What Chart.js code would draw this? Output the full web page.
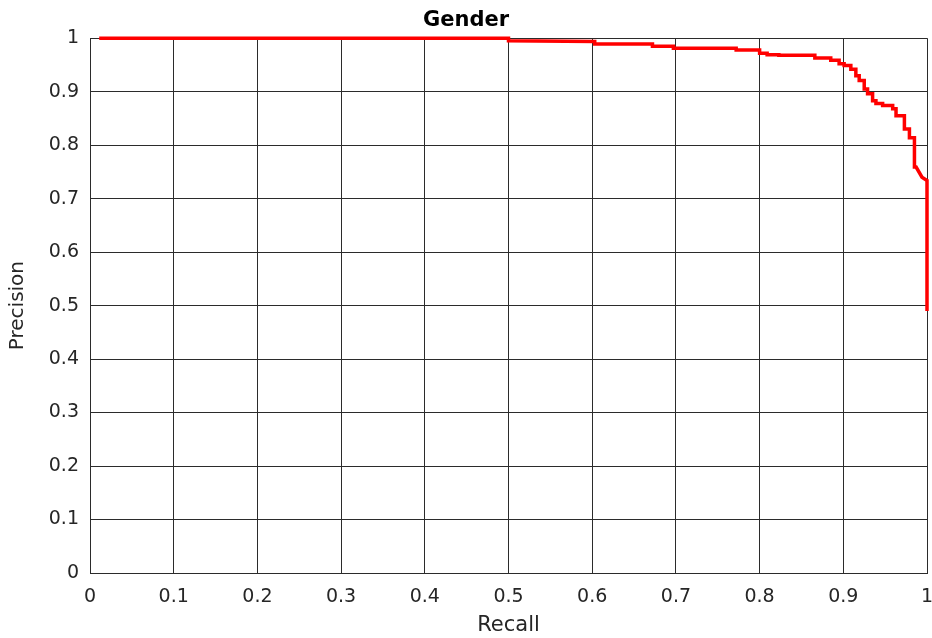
<!DOCTYPE html>
<html>
<head>
<meta charset="utf-8">
<script src="https://cdn.jsdelivr.net/npm/chart.js@4"></script>
<style>
  html, body { margin: 0; padding: 0; background: #fff; }
  #wrap { width: 932px; height: 638px; }
</style>
</head>
<body>
<div id="wrap"><canvas id="myChart" width="932" height="638"></canvas></div>
<script>
// Kurve (Recall / Precision)
const recall = [
    0.011, 0.500, 0.500, 0.603, 0.603, 0.672, 0.672, 0.697, 0.697, 0.772,
    0.772, 0.800, 0.800, 0.809, 0.809, 0.823, 0.823, 0.866, 0.866, 0.885,
    0.885, 0.895, 0.895, 0.901, 0.901, 0.909, 0.909, 0.915, 0.915, 0.919,
    0.919, 0.925, 0.925, 0.929, 0.929, 0.935, 0.935, 0.939, 0.939, 0.947,
    0.947, 0.959, 0.959, 0.963, 0.963, 0.973, 0.973, 0.979, 0.979, 0.985,
    0.985, 0.987, 0.994, 1.000, 1.000
];
const precision = [
    1.000, 1.000, 0.995, 0.994, 0.989, 0.989, 0.985, 0.985, 0.981, 0.981,
    0.978, 0.978, 0.972, 0.972, 0.969, 0.969, 0.968, 0.968, 0.963, 0.963,
    0.959, 0.959, 0.952, 0.952, 0.949, 0.949, 0.942, 0.942, 0.930, 0.930,
    0.921, 0.921, 0.905, 0.905, 0.896, 0.896, 0.883, 0.883, 0.878, 0.878,
    0.874, 0.874, 0.868, 0.868, 0.855, 0.855, 0.830, 0.830, 0.814, 0.814,
    0.759, 0.759, 0.740, 0.734, 0.490
];

// Achsenbeschriftung
const tickLabels = ['0', '0.1', '0.2', '0.3', '0.4', '0.5', '0.6', '0.7', '0.8', '0.9', '1'];

const chartTitle = 'Gender';
const xTitle = 'Recall';
const yTitle = 'Precision';

const points = recall.map((r, i) => ({ x: r, y: precision[i] }));

const gridColor = '#2b2b2b';
const textColor = '#262626';
const fontFamily = '"DejaVu Sans", "Liberation Sans", sans-serif';

function tickLabel(value) {
    return tickLabels[Math.round(value * 10)];
}

const ctx = document.getElementById('myChart').getContext('2d');
new Chart(ctx, {
    type: 'scatter',
    data: {
        datasets: [{
            label: yTitle,
            data: points,
            showLine: true,
            borderColor: '#ff0000',
            borderWidth: 3.5,
            pointRadius: 0,
            pointHoverRadius: 0,
            fill: false,
            tension: 0,
            clip: false
        }]
    },
    options: {
        responsive: false,
        animation: false,
        layout: { padding: 0 },
        plugins: {
            legend: { display: false },
            tooltip: { enabled: false },
            title: {
                display: true,
                text: chartTitle,
                color: '#000',
                font: { family: fontFamily, size: 21, weight: 'bold' },
                padding: { top: 8, bottom: 5 }
            }
        },
        scales: {
            x: {
                type: 'linear',
                min: 0,
                max: 1,
                ticks: {
                    stepSize: 0.1,
                    color: textColor,
                    padding: 13,
                    maxRotation: 0,
                    font: { family: fontFamily, size: 19 },
                    callback: tickLabel
                },
                grid: { color: gridColor, lineWidth: 1, drawTicks: false },
                border: { color: gridColor, width: 1 },
                title: {
                    display: true,
                    text: xTitle,
                    color: textColor,
                    font: { family: fontFamily, size: 21 },
                    padding: { top: 0, bottom: 0 }
                },
                afterFit: (scale) => {
                    scale.height = 65;
                    scale.paddingRight = 5;
                    scale.paddingLeft = 0;
                }
            },
            y: {
                type: 'linear',
                min: 0,
                max: 1,
                ticks: {
                    stepSize: 0.1,
                    color: textColor,
                    padding: 11,
                    font: { family: fontFamily, size: 19 },
                    callback: tickLabel
                },
                grid: { color: gridColor, lineWidth: 1, drawTicks: false },
                border: { color: gridColor, width: 1 },
                title: {
                    display: true,
                    text: yTitle,
                    color: textColor,
                    font: { family: fontFamily, size: 20 },
                    padding: { top: 6, bottom: 0 }
                },
                afterFit: (scale) => {
                    scale.width = 90;
                }
            }
        }
    }
});
</script>
</body>
</html>
